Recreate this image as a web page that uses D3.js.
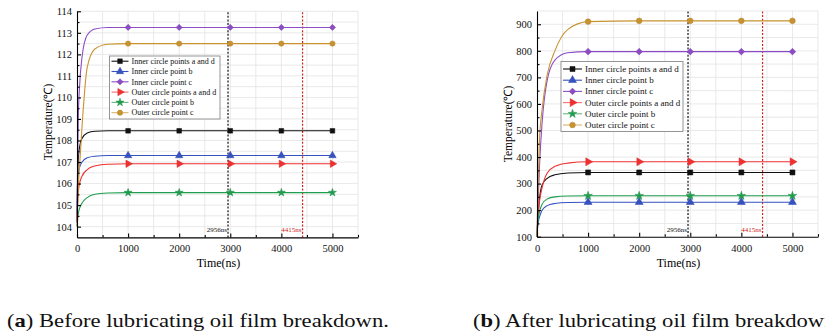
<!DOCTYPE html>
<html>
<head>
<meta charset="utf-8">
<script src="https://cdn.jsdelivr.net/npm/d3@7"></script>
<style>
  body { margin: 0; background: #fff; }
  svg { display: block; font-family: "Liberation Serif", "Times New Roman", serif; }
</style>
</head>
<body>
<svg id="chart" width="825" height="336"></svg>
<script>
// series names, legend order
const seriesNames = [
  'Inner circle points a and d',
  'Inner circle point b',
  'Inner circle point c',
  'Outer circle points a and d',
  'Outer circle point b',
  'Outer circle point c'
];

// sample times (ns), shared by both panels
const times = [0, 10, 25, 50, 100, 200, 350, 600, 1000, 2000, 3000, 4000, 5000];

// (a) before oil film breakdown, temperature in °C
const beforeInnerAD = [104.2, 106.0, 107.1, 107.7, 108.1, 108.35, 108.43, 108.45, 108.45, 108.45, 108.45, 108.45, 108.45];
const beforeInnerB  = [104.2, 106.0, 106.5, 106.75, 107.0, 107.2, 107.27, 107.3, 107.3, 107.3, 107.3, 107.3, 107.3];
const beforeInnerC  = [104.2, 106.5, 109.0, 110.5, 111.9, 112.9, 113.18, 113.25, 113.25, 113.25, 113.25, 113.25, 113.25];
const beforeOuterAD = [104.3, 105.0, 105.6, 106.0, 106.35, 106.65, 106.82, 106.9, 106.92, 106.92, 106.92, 106.92, 106.92];
const beforeOuterB  = [104.0, 104.3, 104.6, 104.85, 105.1, 105.35, 105.5, 105.56, 105.58, 105.58, 105.58, 105.58, 105.58];
const beforeOuterC  = [104.0, 104.8, 105.8, 106.8, 108.7, 111.4, 112.25, 112.47, 112.5, 112.5, 112.5, 112.5, 112.5];

// (b) after oil film breakdown
const afterInnerAD = [100, 145, 190, 245, 295, 320, 333, 340, 342, 342, 342, 342, 342];
const afterInnerB  = [100, 130, 155, 175, 200, 217, 225, 229, 230, 230, 230, 230, 230];
const afterInnerC  = [100, 160, 240, 370, 530, 690, 765, 793, 797, 797, 797, 797, 797];
const afterOuterAD = [100, 145, 190, 235, 285, 340, 365, 377, 382, 382, 382, 382, 382];
const afterOuterB  = [100, 140, 168, 195, 222, 242, 250, 253, 254, 254, 254, 254, 254];
const afterOuterC  = [100, 200, 300, 470, 580, 710, 800, 880, 910, 913, 913, 913, 913];

const xTicks = [0, 1000, 2000, 3000, 4000, 5000];
const ticksA = [104, 105, 106, 107, 108, 109, 110, 111, 112, 113, 114];
const ticksB = [100, 200, 300, 400, 500, 600, 700, 800, 900];
const markTimes = [2956, 4415];
const captions = [['a', ' Before lubricating oil film breakdown.'], ['b', ' After lubricating oil film breakdown.']];

const colors = ['#111111', '#3652c0', '#8c4cc6', '#f03030', '#1f9e4e', '#c8932f'];
const markColors = ['#111', '#d02020'];
const serif = '"Liberation Serif", "Times New Roman", serif';

const svg = d3.select('#chart');

const symbols = [
  { type: d3.symbolSquare, size: 22, rot: 0 },
  { type: d3.symbolTriangle, size: 24, rot: 0 },
  { type: d3.symbolSquare, size: 19, rot: 45 },
  { type: d3.symbolTriangle, size: 24, rot: 90 },
  { type: d3.symbolStar, size: 20, rot: 0 },
  { type: d3.symbolCircle, size: 22, rot: 0 }
];

function drawMarker(g, i, cx, cy, scale) {
  const s = symbols[i];
  g.append('path')
    .attr('d', d3.symbol().type(s.type).size(s.size * scale)())
    .attr('transform', `translate(${cx},${cy}) rotate(${s.rot})`)
    .attr('fill', colors[i])
    .attr('stroke', d3.color(colors[i]).darker(0.3))
    .attr('stroke-width', 0.5);
}

function drawPanel(p) {
  const g = svg.append('g');
  const x = d3.scaleLinear().domain([0, 5500]).range([p.left, p.right]);
  const y = d3.scaleLinear().domain(p.yDomain).range([p.bottom, p.top]);

  // grid
  g.append('g').selectAll('line')
    .data(d3.range(500, 5501, 500))
    .join('line')
    .attr('x1', d => x(d)).attr('x2', d => x(d))
    .attr('y1', p.bottom).attr('y2', p.top)
    .attr('stroke', '#e3e3e3').attr('stroke-width', 0.8);
  g.append('g').selectAll('line')
    .data(d3.range(p.yDomain[0] + p.gridStep, p.yDomain[1] + p.gridStep / 2, p.gridStep))
    .join('line')
    .attr('x1', p.left).attr('x2', p.right)
    .attr('y1', d => y(d)).attr('y2', d => y(d))
    .attr('stroke', '#e3e3e3').attr('stroke-width', 0.8);

  // breakdown time markers
  markTimes.forEach((t, k) => {
    g.append('line')
      .attr('x1', x(t)).attr('x2', x(t))
      .attr('y1', p.bottom).attr('y2', p.top)
      .attr('stroke', markColors[k]).attr('stroke-width', 1.2)
      .attr('stroke-dasharray', '2,1.6');
    g.append('text')
      .attr('x', x(t) - 1).attr('y', p.bottom - 5)
      .attr('text-anchor', 'end')
      .attr('font-size', 7)
      .attr('fill', markColors[k])
      .text(t + 'ns');
  });

  // curves and markers
  const line = d3.line()
    .x((d, i) => x(times[i]))
    .y(d => y(d))
    .curve(d3.curveMonotoneX);

  p.series.forEach((vals, i) => {
    g.append('path')
      .attr('d', line(vals))
      .attr('fill', 'none')
      .attr('stroke', colors[i])
      .attr('stroke-width', 1.1);
  });
  p.series.forEach((vals, i) => {
    vals.forEach((v, j) => {
      if (times[j] >= 1000) drawMarker(g, i, x(times[j]), y(v), p.markScale);
    });
  });

  // axes
  const xAxis = g.append('g')
    .attr('transform', `translate(0,${p.bottom})`)
    .call(d3.axisBottom(x).tickValues(xTicks).tickFormat(d3.format('d'))
      .tickSizeInner(-4).tickSizeOuter(0).tickPadding(7.5));
  g.append('g')
    .attr('transform', `translate(0,${p.bottom})`)
    .call(d3.axisBottom(x).tickValues(d3.range(500, 5501, 1000)).tickSize(-2.5).tickFormat(''))
    .call(a => a.select('.domain').remove());
  const yAxis = g.append('g')
    .attr('transform', `translate(${p.left},0)`)
    .call(d3.axisLeft(y).tickValues(p.yTicks).tickSizeInner(-4).tickSizeOuter(0).tickPadding(5));
  const minorY = p.yTicks.map(d => d - p.gridStep).concat([p.yTicks[p.yTicks.length - 1] + p.gridStep])
    .filter(d => d > p.yDomain[0] && d < p.yDomain[1]);
  g.append('g')
    .attr('transform', `translate(${p.left},0)`)
    .call(d3.axisLeft(y).tickValues(minorY).tickSize(-2.5).tickFormat(''))
    .call(a => a.select('.domain').remove());

  g.selectAll('.domain, .tick line').attr('stroke', '#000').attr('stroke-width', 1.1);
  [xAxis, yAxis].forEach(a => {
    a.attr('font-family', serif).attr('font-size', 10.5);
    a.selectAll('text').attr('fill', '#111');
  });

  // axis titles
  g.append('text')
    .attr('x', (p.left + p.right) / 2 + 1).attr('y', 267)
    .attr('text-anchor', 'middle')
    .attr('font-size', 12)
    .text('Time(ns)');
  g.append('text')
    .attr('transform', `translate(${p.left - 25},${p.titleY}) rotate(-90)`)
    .attr('text-anchor', 'middle')
    .attr('font-size', 11.5)
    .text('Temperature(℃)');

  // legend
  const L = p.legend;
  const lg = g.append('g');
  lg.append('rect')
    .attr('x', L.x).attr('y', L.y).attr('width', L.w).attr('height', L.h)
    .attr('fill', '#fff').attr('stroke', '#8a8a8a').attr('stroke-width', 0.9);
  seriesNames.forEach((name, i) => {
    const ry = L.firstY + i * L.step;
    lg.append('line')
      .attr('x1', L.x + 2).attr('x2', L.textX - 3)
      .attr('y1', ry).attr('y2', ry)
      .attr('stroke', colors[i]).attr('stroke-width', 1.1)
      .attr('stroke-opacity', i >= 3 ? 0.7 : 1);
    drawMarker(lg, i, (L.x + 2 + L.textX - 3) / 2, ry, p.markScale);
    lg.append('text')
      .attr('x', L.textX).attr('y', ry)
      .attr('dy', '0.34em')
      .attr('font-size', L.fontSize)
      .attr('fill', '#111')
      .text(name);
  });

  // caption, stretched a little to the wider book face of the original
  const cap = svg.append('text')
    .attr('x', p.capX).attr('y', 327)
    .attr('font-size', 19.5)
    .attr('fill', '#111');
  cap.append('tspan').text('(');
  cap.append('tspan').attr('font-weight', 'bold').text(p.caption[0]);
  cap.append('tspan').text(')' + p.caption[1]);
  const w = cap.node().getComputedTextLength();
  cap.attr('textLength', w * 1.16).attr('lengthAdjust', 'spacingAndGlyphs');
}

drawPanel({
  left: 77, right: 358, bottom: 237.4, top: 11.3,
  yDomain: [103.5, 114], yTicks: ticksA, gridStep: 0.5,
  series: [beforeInnerAD, beforeInnerB, beforeInnerC, beforeOuterAD, beforeOuterB, beforeOuterC],
  titleY: 122, markScale: 1,
  legend: { x: 109.5, y: 56, w: 110.5, h: 63, firstY: 61.2, step: 10.3, textX: 131.5, fontSize: 8 },
  capX: 7, caption: captions[0]
});

drawPanel({
  left: 537, right: 818, bottom: 236.7, top: 11,
  yDomain: [100, 950], yTicks: ticksB, gridStep: 50,
  series: [afterInnerAD, afterInnerB, afterInnerC, afterOuterAD, afterOuterB, afterOuterC],
  titleY: 124, markScale: 1.15,
  legend: { x: 561, y: 61.5, w: 122, h: 70, firstY: 69, step: 11.2, textX: 585, fontSize: 9 },
  capX: 473, caption: captions[1]
});
</script>
</body>
</html>
